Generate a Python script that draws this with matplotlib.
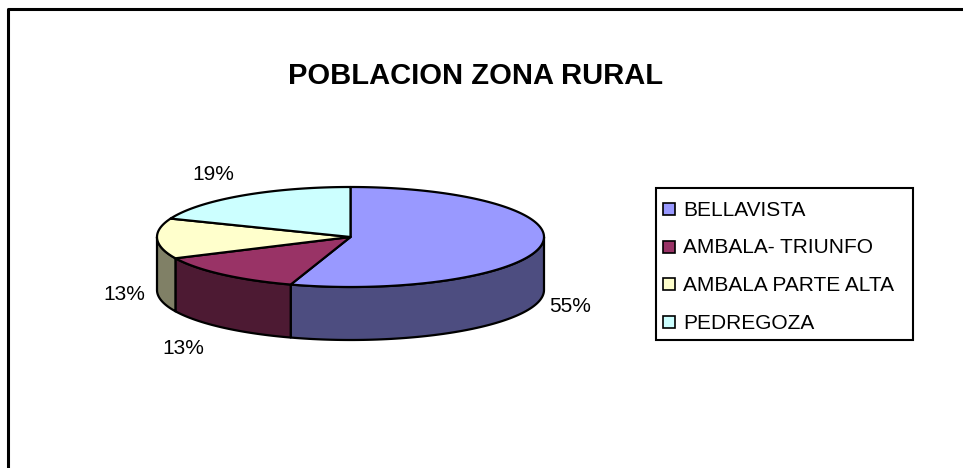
import numpy as np
import matplotlib
matplotlib.use("Agg")
import matplotlib.pyplot as plt
from matplotlib.patches import Polygon, Rectangle

plt.rcParams["font.family"] = ["Liberation Sans", "DejaVu Sans"]

# data
labels = ["BELLAVISTA", "AMBALA- TRIUNFO", "AMBALA PARTE ALTA", "PEDREGOZA"]
values = [55, 13, 13, 19]
top_colors = ["#9999FF", "#993366", "#FFFFCC", "#CCFFFF"]
side_colors = ["#4D4D80", "#4D1A33", "#808066", "#668080"]
# label positions in pixel space
label_pos = [(570, 307), (183, 348), (124, 294), (213, 175)]

W, H = 963, 468
fig = plt.figure(figsize=(W / 100, H / 100), dpi=100)
ax = fig.add_axes([0, 0, 1, 1])
ax.set_xlim(0, W)
ax.set_ylim(H, 0)
ax.axis("off")

# outer chart frame (right/bottom are off-canvas)
ax.plot([8, 8, W + 5], [H + 5, 9, 9], color="black", lw=2.2, solid_capstyle="butt")

ax.text(476, 84, "POBLACION ZONA RURAL", ha="center", va="baseline",
        fontsize=21, fontweight="bold")

# 3D pie geometry
cx, cy, rx, ry, depth = 350.5, 237, 193.5, 50, 53
total = float(sum(values))
start = 90.0
spans = []
for v in values:
    end = start - 360.0 * v / total
    spans.append((start, end))
    start = end


def pt(theta_deg, dz=0):
    t = np.radians(theta_deg)
    return cx + rx * np.cos(t), cy - ry * np.sin(t) + dz


# side walls (front half only: 180..360 deg)
for (a0, a1), sc in zip(spans, side_colors):
    lo, hi = min(a0, a1), max(a0, a1)
    for off in (0, -360, 360):
        s_lo = max(lo + off, 180)
        s_hi = min(hi + off, 360)
        if s_hi <= s_lo:
            continue
        th = np.linspace(s_lo, s_hi, 80)
        topx, topy = pt(th)
        botx, boty = pt(th[::-1], depth)
        poly = np.column_stack([np.concatenate([topx, botx]),
                                np.concatenate([topy, boty])])
        ax.add_patch(Polygon(poly, closed=True, facecolor=sc,
                             edgecolor="black", lw=1.6, joinstyle="round"))

# top faces
for (a0, a1), tc in zip(spans, top_colors):
    th = np.linspace(a0, a1, 150)
    x, y = pt(th)
    poly = np.column_stack([np.concatenate([[cx], x]), np.concatenate([[cy], y])])
    ax.add_patch(Polygon(poly, closed=True, facecolor=tc,
                         edgecolor="black", lw=1.6, joinstyle="round"))

# percentage labels
for v, (lx, ly) in zip(values, label_pos):
    ax.text(lx, ly, f"{v / total * 100:.0f}%", ha="center", va="center", fontsize=15)

# legend box (drawn by hand to match the Excel layout)
ax.add_patch(Rectangle((656, 188), 257, 152, facecolor="white",
                       edgecolor="black", lw=1.5))
row0, step = 209, 37.7
for i, (lab, c) in enumerate(zip(labels, top_colors)):
    yc = row0 + i * step
    ax.add_patch(Rectangle((663, yc - 6), 12, 12, facecolor=c,
                           edgecolor="black", lw=1.2))
    ax.text(683, yc + 1, lab, ha="left", va="center", fontsize=15)

fig.savefig("out.png", dpi=100)
